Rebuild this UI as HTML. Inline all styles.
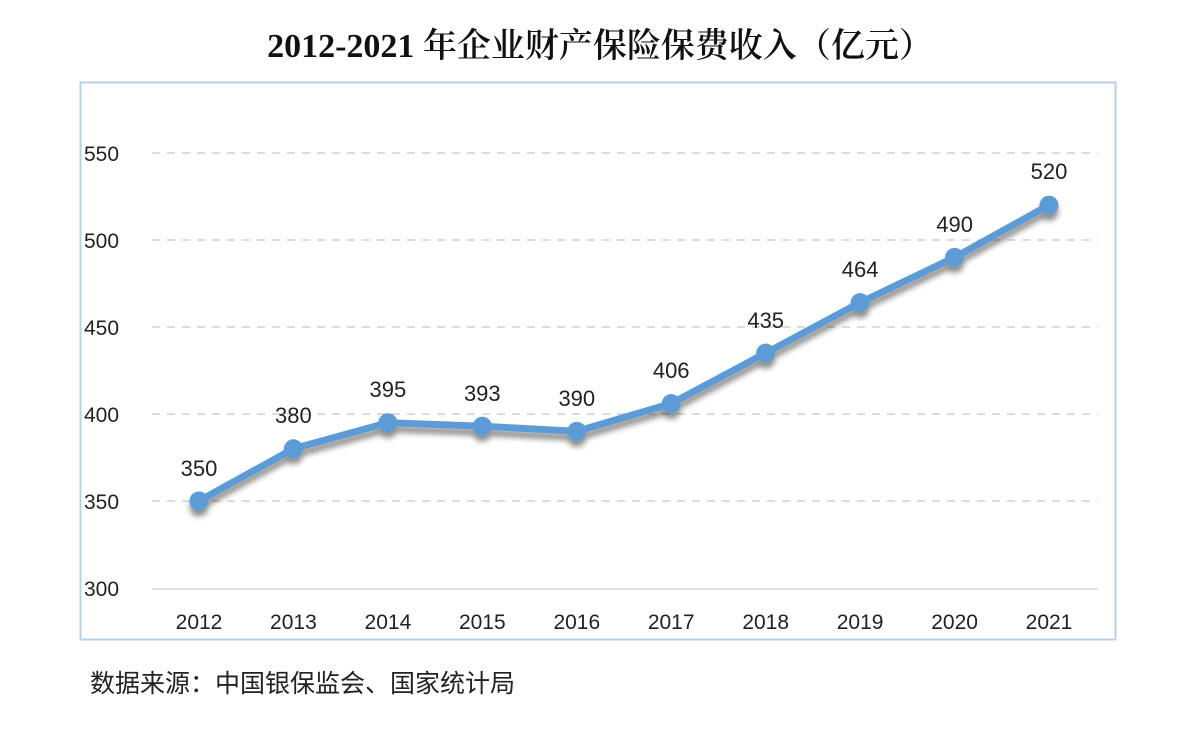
<!DOCTYPE html>
<html><head><meta charset="utf-8"><style>
html,body{margin:0;padding:0;background:#fff;width:1200px;height:751px;overflow:hidden}
</style></head><body>
<svg width="1200" height="751" viewBox="0 0 1200 751" xmlns="http://www.w3.org/2000/svg">
<defs><filter id="sh" x="-10%" y="-10%" width="120%" height="130%"><feGaussianBlur in="SourceAlpha" stdDeviation="3"/><feOffset dx="0" dy="6"/><feComponentTransfer><feFuncA type="linear" slope="0.45"/></feComponentTransfer><feMerge><feMergeNode/><feMergeNode in="SourceGraphic"/></feMerge></filter></defs>
<text x="600" y="57" text-anchor="middle" font-family="'Liberation Serif','Noto Serif CJK SC',serif" font-weight="600" font-size="34" fill="#111">2012-2021 年企业财产保险保费收入（亿元）</text>
<rect x="80.5" y="82.5" width="1035" height="557" fill="#fff" stroke="#b7d2e8" stroke-width="2"/>
<g stroke="#d0d0d0" stroke-width="1.5" stroke-dasharray="8,7">
<line x1="152" y1="153" x2="1098" y2="153"/><line x1="152" y1="240" x2="1098" y2="240"/><line x1="152" y1="327" x2="1098" y2="327"/><line x1="152" y1="414" x2="1098" y2="414"/><line x1="152" y1="501" x2="1098" y2="501"/>
</g>
<line x1="152" y1="589" x2="1098" y2="589" stroke="#d6d6d6" stroke-width="1.5"/>
<g font-family="'Liberation Sans',sans-serif" font-size="21" fill="#222">
<text x="84" y="161">550</text><text x="84" y="248">500</text><text x="84" y="335">450</text><text x="84" y="422">400</text><text x="84" y="509">350</text><text x="84" y="596">300</text>
</g>
<g font-family="'Liberation Sans',sans-serif" font-size="21" fill="#222" text-anchor="middle">
<text x="199" y="629">2012</text><text x="293.4" y="629">2013</text><text x="387.9" y="629">2014</text><text x="482.3" y="629">2015</text><text x="576.8" y="629">2016</text><text x="671.2" y="629">2017</text><text x="765.7" y="629">2018</text><text x="860.1" y="629">2019</text><text x="954.6" y="629">2020</text><text x="1049" y="629">2021</text>
</g>
<g filter="url(#sh)">
<polyline fill="none" stroke="#5b9bd5" stroke-width="7" stroke-linejoin="round" points="199,501 293.4,448.8 387.9,422.7 482.3,426.2 576.8,431.4 671.2,403.6 765.7,353.1 860.1,302.6 954.6,257.4 1049,205.2"/>
<g fill="#5b9bd5">
<circle cx="199" cy="501" r="9.5"/><circle cx="293.4" cy="448.8" r="9.5"/><circle cx="387.9" cy="422.7" r="9.5"/><circle cx="482.3" cy="426.2" r="9.5"/><circle cx="576.8" cy="431.4" r="9.5"/><circle cx="671.2" cy="403.6" r="9.5"/><circle cx="765.7" cy="353.1" r="9.5"/><circle cx="860.1" cy="302.6" r="9.5"/><circle cx="954.6" cy="257.4" r="9.5"/><circle cx="1049" cy="205.2" r="9.5"/>
</g></g>
<g font-family="'Liberation Sans',sans-serif" font-size="22" fill="#222" text-anchor="middle">
<text x="199" y="476">350</text><text x="293.4" y="423">380</text><text x="387.9" y="397">395</text><text x="482.3" y="401">393</text><text x="576.8" y="406">390</text><text x="671.2" y="378">406</text><text x="765.7" y="328">435</text><text x="860.1" y="277">464</text><text x="954.6" y="232">490</text><text x="1049" y="179">520</text>
</g>
<text x="90" y="692" font-family="'Liberation Sans','Noto Sans CJK SC',sans-serif" font-size="25" fill="#222">数据来源：中国银保监会、国家统计局</text>
</svg>
</body></html>
